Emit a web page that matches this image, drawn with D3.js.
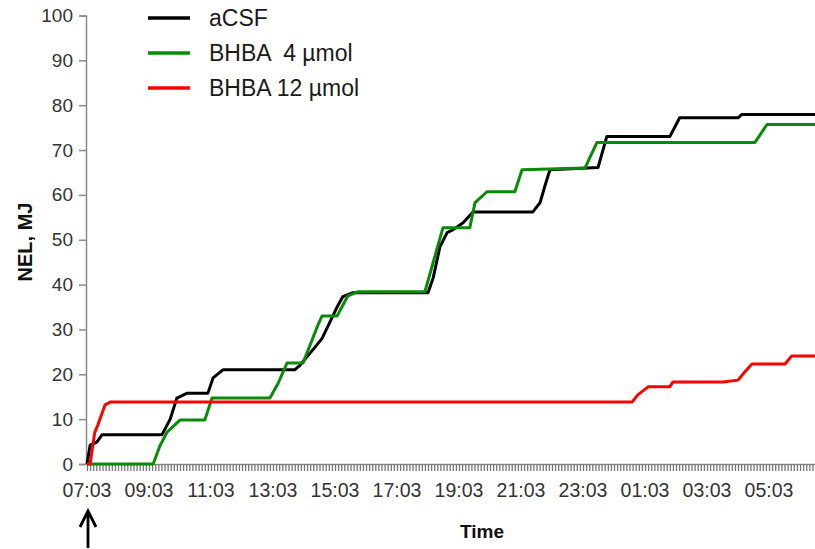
<!DOCTYPE html>
<html>
<head>
<meta charset="utf-8">
<script src="https://cdn.jsdelivr.net/npm/d3@7/dist/d3.min.js"></script>
<style>
body { margin: 0; background: #fff; }
text { font-family: "Liberation Sans", Arial, sans-serif; }
</style>
</head>
<body>
<svg id="chart" width="815" height="549"></svg>
<script>
// minutes after 07:03, values in MJ
var acsfMin = [0, 6, 19, 29, 145, 161, 174, 194, 234, 244, 263, 402, 412, 441, 455, 484, 495, 515, 660, 670, 683, 697, 708, 728, 747, 863, 877, 886, 896, 989, 1006, 1128, 1147, 1260, 1267, 1409];
var acsfVal = [0, 4.2, 4.9, 6.5, 6.5, 10, 14.7, 15.8, 15.8, 19.2, 21, 21, 22, 26, 28, 35, 37.3, 38.2, 38.2, 41.5, 48.4, 51.6, 52.2, 53.8, 56.2, 56.2, 58.3, 61.9, 65.6, 66.1, 73, 73, 77.2, 77.2, 77.9, 77.9];

var bhba4Min = [0, 128, 141, 155, 180, 228, 242, 354, 370, 387, 418, 447, 455, 484, 505, 524, 654, 689, 741, 751, 774, 828, 842, 964, 987, 1293, 1316, 1409];
var bhba4Val = [0, 0, 4, 7.1, 9.8, 9.8, 14.7, 14.7, 18, 22.5, 22.5, 31, 33, 33, 37.5, 38.4, 38.4, 52.7, 52.7, 58.3, 60.7, 60.7, 65.6, 66, 71.7, 71.7, 75.7, 75.7];

var bhba12Min = [0, 6, 15, 21, 35, 45, 1055, 1066, 1086, 1128, 1134, 1231, 1260, 1273, 1287, 1351, 1364, 1409];
var bhba12Val = [0, 0, 7, 8.7, 13.2, 13.8, 13.8, 15.4, 17.2, 17.2, 18.3, 18.3, 18.7, 20.5, 22.3, 22.3, 24.1, 24.1];

var seriesNames = ["aCSF", "BHBA  4 \u00b5mol", "BHBA 12 \u00b5mol"];
var seriesColors = ["#000000", "#0a8a0a", "#ff0000"];
var timeLabels = ["07:03", "09:03", "11:03", "13:03", "15:03", "17:03", "19:03", "21:03", "23:03", "01:03", "03:03", "05:03"];
var yTicks = [0, 10, 20, 30, 40, 50, 60, 70, 80, 90, 100];

var svg = d3.select("#chart");

var x = d3.scaleLinear().domain([0, 1409]).range([87, 815]);
var y = d3.scaleLinear().domain([0, 100]).range([464, 15.5]);

// y axis
var yAxis = svg.append("g")
    .attr("transform", "translate(86,0)")
    .call(d3.axisLeft(y).tickValues(yTicks).tickSize(7).tickPadding(6));
yAxis.select(".domain").attr("stroke", "#8a8a8a").attr("stroke-width", 1.5);
yAxis.selectAll(".tick line").attr("stroke", "#8a8a8a").attr("stroke-width", 1.5);
yAxis.selectAll(".tick text").attr("font-size", 19).attr("fill", "#333")
    .attr("font-family", "Liberation Sans, Arial, sans-serif");

// x axis: minor ticks every 6 minutes, labels every 2 hours
var minor = d3.range(0, 1410, 6);
var xAxis = svg.append("g")
    .attr("transform", "translate(0,464)")
    .call(d3.axisBottom(x).tickValues(minor).tickSize(7).tickSizeOuter(0).tickFormat(""));
xAxis.select(".domain").attr("stroke", "#8a8a8a").attr("stroke-width", 1.5);
xAxis.selectAll(".tick line").attr("stroke", "#777").attr("stroke-width", 1.3);

svg.append("g").selectAll("text")
    .data(timeLabels)
    .enter().append("text")
    .attr("x", function(d, i) { return x(i * 120); })
    .attr("y", 497)
    .attr("text-anchor", "middle")
    .attr("font-size", 19.5)
    .attr("fill", "#333")
    .text(function(d) { return d; });

// axis titles
svg.append("text")
    .attr("transform", "translate(32,242) rotate(-90)")
    .attr("text-anchor", "middle")
    .attr("font-size", 20)
    .attr("font-weight", "bold")
    .attr("fill", "#111")
    .text("NEL, MJ");

svg.append("text")
    .attr("x", 482)
    .attr("y", 538)
    .attr("text-anchor", "middle")
    .attr("font-size", 19)
    .attr("font-weight", "bold")
    .attr("fill", "#111")
    .text("Time");

// arrow marking injection
svg.append("path")
    .attr("d", "M88,548 L88,512 M80,527 L88,511 L96,527")
    .attr("fill", "none")
    .attr("stroke", "#000")
    .attr("stroke-width", 2.8);

// lines
var line = d3.line()
    .x(function(d) { return x(d[0]); })
    .y(function(d) { return y(d[1]); });

var series = [
    d3.zip(acsfMin, acsfVal),
    d3.zip(bhba4Min, bhba4Val),
    d3.zip(bhba12Min, bhba12Val)
];

svg.append("g").selectAll("path")
    .data(series)
    .enter().append("path")
    .attr("d", line)
    .attr("fill", "none")
    .attr("stroke", function(d, i) { return seriesColors[i]; })
    .attr("stroke-width", 3)
    .attr("stroke-linejoin", "round");

// legend
var legend = svg.append("g").selectAll("g")
    .data(seriesNames)
    .enter().append("g")
    .attr("transform", function(d, i) { return "translate(148," + (18 + i * 35) + ")"; });

legend.append("line")
    .attr("x1", 0).attr("x2", 42)
    .attr("stroke", function(d, i) { return seriesColors[i]; })
    .attr("stroke-width", 3.5);

legend.append("text")
    .attr("x", 61)
    .attr("y", 8)
    .attr("font-size", 23)
    .attr("fill", "#1a1a1a")
    .style("white-space", "pre")
    .text(function(d) { return d; });
</script>
</body>
</html>
